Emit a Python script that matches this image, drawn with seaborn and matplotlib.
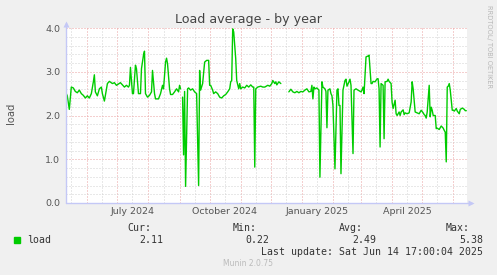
import numpy as np
import pandas as pd
import matplotlib
matplotlib.use("Agg")
import matplotlib.pyplot as plt
import matplotlib.dates as mdates
from matplotlib.ticker import MultipleLocator, FuncFormatter
import seaborn as sns

# ---------------- data ----------------
dates = [
    "2024-05-11", "2024-05-12", "2024-05-14", "2024-05-16", "2024-05-18", "2024-05-20",
    "2024-05-22", "2024-05-24", "2024-05-26", "2024-05-28", "2024-05-30", "2024-06-01",
    "2024-06-03", "2024-06-05", "2024-06-07", "2024-06-08", "2024-06-09", "2024-06-11",
    "2024-06-13", "2024-06-15", "2024-06-16", "2024-06-18", "2024-06-19", "2024-06-21",
    "2024-06-23", "2024-06-26", "2024-06-28", "2024-06-30", "2024-07-02", "2024-07-04",
    "2024-07-06", "2024-07-08", "2024-07-10", "2024-07-12", "2024-07-13", "2024-07-14",
    "2024-07-16", "2024-07-17", "2024-07-19", "2024-07-20", "2024-07-22", "2024-07-24",
    "2024-07-25", "2024-07-27", "2024-07-28", "2024-07-29", "2024-07-31", "2024-08-02",
    "2024-08-04", "2024-08-05", "2024-08-07", "2024-08-08", "2024-08-11", "2024-08-13",
    "2024-08-15", "2024-08-16", "2024-08-18", "2024-08-19", "2024-08-20", "2024-08-22",
    "2024-08-23", "2024-08-25", "2024-08-27", "2024-08-29", "2024-08-31", "2024-09-01",
    "2024-09-02", "2024-09-03", "2024-09-04", "2024-09-05", "2024-09-06", "2024-09-07",
    "2024-09-09", "2024-09-10", "2024-09-12", "2024-09-14", "2024-09-16", "2024-09-18",
    "2024-09-20", "2024-09-21", "2024-09-22", "2024-09-24", "2024-09-26", "2024-09-28",
    "2024-09-30", "2024-10-01", "2024-10-02", "2024-10-04", "2024-10-05", "2024-10-07",
    "2024-10-09", "2024-10-11", "2024-10-13", "2024-10-15", "2024-10-17", "2024-10-19",
    "2024-10-21", "2024-10-22", "2024-10-23", "2024-10-24", "2024-10-25", "2024-10-27",
    "2024-10-28", "2024-10-30", "2024-10-31", "2024-11-01", "2024-11-03", "2024-11-05",
    "2024-11-07", "2024-11-09", "2024-11-11", "2024-11-13", "2024-11-14", "2024-11-15",
    "2024-11-16", "2024-11-18", "2024-11-21", "2024-11-23", "2024-11-25", "2024-11-28",
    "2024-11-30", "2024-12-02", "2024-12-03", "2024-12-05", "2024-12-06", "2024-12-07",
    "2024-12-09", "2024-12-11", "2024-12-12", "2024-12-19", "2024-12-21", "2024-12-23",
    "2024-12-25", "2024-12-27", "2024-12-29", "2024-12-31", "2025-01-02", "2025-01-04",
    "2025-01-06", "2025-01-08", "2025-01-10", "2025-01-11", "2025-01-12", "2025-01-13",
    "2025-01-14", "2025-01-16", "2025-01-18", "2025-01-19", "2025-01-21", "2025-01-22",
    "2025-01-24", "2025-01-25", "2025-01-26", "2025-01-27", "2025-01-29", "2025-01-30",
    "2025-01-31", "2025-02-01", "2025-02-03", "2025-02-05", "2025-02-06", "2025-02-07",
    "2025-02-08", "2025-02-09", "2025-02-11", "2025-02-13", "2025-02-14", "2025-02-15",
    "2025-02-17", "2025-02-18", "2025-02-19", "2025-02-21", "2025-02-22", "2025-02-24",
    "2025-02-26", "2025-03-01", "2025-03-02", "2025-03-03", "2025-03-04", "2025-03-06",
    "2025-03-08", "2025-03-09", "2025-03-11", "2025-03-12", "2025-03-13", "2025-03-15",
    "2025-03-17", "2025-03-18", "2025-03-19", "2025-03-20", "2025-03-21", "2025-03-23",
    "2025-03-24", "2025-03-25", "2025-03-27", "2025-03-28", "2025-03-29", "2025-03-31",
    "2025-04-01", "2025-04-02", "2025-04-04", "2025-04-05", "2025-04-06", "2025-04-08",
    "2025-04-09", "2025-04-10", "2025-04-12", "2025-04-13", "2025-04-14", "2025-04-16",
    "2025-04-18", "2025-04-20", "2025-04-21", "2025-04-22", "2025-04-24", "2025-04-26",
    "2025-04-28", "2025-04-30", "2025-05-02", "2025-05-03", "2025-05-04", "2025-05-05",
    "2025-05-06", "2025-05-08", "2025-05-09", "2025-05-10", "2025-05-11", "2025-05-12",
    "2025-05-14", "2025-05-15", "2025-05-16", "2025-05-18", "2025-05-20", "2025-05-22",
    "2025-05-23", "2025-05-24", "2025-05-25", "2025-05-26", "2025-05-27", "2025-05-28",
    "2025-05-29", "2025-05-31", "2025-06-01", "2025-06-02", "2025-06-04", "2025-06-05",
    "2025-06-07", "2025-06-08", "2025-06-10", "2025-06-12", "2025-06-13", "2025-06-14",
]
nan = float("nan")
loads = [
    2.50, 2.45, 2.14, 2.65, 2.63, 2.55,
    2.52, 2.58, 2.50, 2.46, 2.40, 2.45,
    2.40, 2.50, 2.77, 2.93, 2.54, 2.45,
    2.61, 2.65, 2.50, 2.33, 2.46, 2.73,
    2.78, 2.73, 2.75, 2.69, 2.72, 2.75,
    2.70, 2.65, 2.69, 2.65, 2.69, 3.10,
    2.50, 2.50, 3.15, 3.07, 2.50, 2.50,
    3.07, 3.38, 3.47, 2.50, 2.42, 2.46,
    2.54, 3.03, 2.50, 2.38, 2.38, 2.50,
    2.69, 2.61, 3.22, 3.31, 3.18, 2.61,
    2.48, 2.48, 2.54, 2.61, 2.54, 2.69,
    2.61, nan, 2.42, 1.10, 2.55, 0.38,
    2.61, 2.63, 2.58, 2.61, 2.54, 2.50,
    0.40, 3.03, 2.58, 2.73, 3.22, 3.26,
    3.26, 2.69, 2.69, 2.58, 2.50, 2.54,
    2.50, 2.42, 2.40, 2.45, 2.48, 2.54,
    2.61, 2.77, 2.80, 3.98, 3.91, 3.30,
    2.80, 2.61, 2.73, 2.61, 2.65, 2.63,
    2.69, 2.65, 2.70, 2.65, 2.65, 0.82,
    2.61, 2.65, 2.67, 2.65, 2.65, 2.69,
    2.67, 2.73, 2.80, 2.73, 2.77, 2.70,
    2.77, 2.73, nan, 2.54, 2.60, 2.54,
    2.52, 2.55, 2.52, 2.55, 2.54, 2.58,
    2.61, 2.54, 2.55, 2.69, 2.38, 2.65,
    2.61, 2.63, 2.58, 0.59, 2.77, 2.65,
    2.61, 2.55, 1.72, 2.58, 2.61, 2.50,
    2.45, 2.23, 0.78, 2.58, 2.61, 2.23,
    2.23, 0.67, 2.58, 2.80, 2.83, 2.67,
    2.77, 2.83, 2.69, 1.13, 2.58, 2.61,
    2.58, 2.54, 2.58, 2.65, 2.50, 3.34,
    3.36, 3.38, 2.73, 2.73, 2.78, 2.77,
    2.84, 2.84, 2.61, 1.28, 2.73, 2.69,
    1.47, 2.77, 2.78, 2.83, 2.78, 2.73,
    2.30, 2.16, 2.35, 2.04, 2.00, 2.08,
    2.00, 2.08, 2.13, 2.02, 2.06, 2.04,
    2.06, 2.31, 2.77, 2.61, 2.08, 2.06,
    2.04, 2.12, 2.06, 2.02, 2.00, 1.94,
    2.08, 2.69, 1.97, 2.19, 2.12, 2.00,
    2.00, 1.70, 1.71, 1.68, 1.76, 1.71,
    1.66, 1.62, 0.94, 2.65, 2.67, 2.73,
    2.58, 2.12, 2.12, 2.10, 2.16, 2.10,
    2.04, 2.14, 2.17, 2.14, 2.11, 2.11,
]
series_name = "load"
stat_labels = ["Cur:", "Min:", "Avg:", "Max:"]
stat_values = ["2.11", "0.22", "2.49", "5.38"]
title = "Load average - by year"
last_update = "Last update: Sat Jun 14 17:00:04 2025"
footer = "Munin 2.0.75"
side_text = "RRDTOOL/ TOBI OETIKER"
x_start, x_end = "2024-05-10 17:00", "2025-06-14 17:00"

# ---------------- style ----------------
sns.set_theme(style="white")
plt.rcParams['font.family'] = ['DejaVu Sans']

W, H = 497, 275
BG = "#F0F0F0"
GREEN = "#00CC00"
RED_GRID = "#EBA0A0"
GRAY_GRID = "#D2D2D2"
AXIS = "#C4C8F6"
TXT = "#555555"

fig = plt.figure(figsize=(W / 100, H / 100), dpi=100, facecolor=BG)
L, R, T, B = 66, 467, 28, 203
ax = fig.add_axes([L / W, 1 - B / H, (R - L) / W, (B - T) / H])
ax.set_facecolor("white")

df = pd.DataFrame({"date": pd.to_datetime(dates), "load": loads})
df["segment"] = df["load"].isna().cumsum()
df = df.dropna()
sns.lineplot(data=df, x="date", y="load", units="segment", estimator=None,
             color=GREEN, lw=1.0, ax=ax, legend=False, zorder=3)

ax.set_xlim(pd.Timestamp(x_start), pd.Timestamp(x_end))
ax.set_ylim(0, 4)
ax.set_xlabel("")
ax.set_ylabel("")

ax.yaxis.set_major_locator(MultipleLocator(1))
ax.yaxis.set_minor_locator(MultipleLocator(0.2))
ax.yaxis.set_major_formatter(FuncFormatter(lambda v, p: f"{v:.1f}"))

ax.xaxis.set_major_locator(mdates.MonthLocator(bymonthday=16))
ax.xaxis.set_minor_locator(mdates.MonthLocator(bymonthday=1))


def fmt_month(v, pos):
    d = mdates.num2date(v)
    return d.strftime("%B %Y") if d.month in (1, 4, 7, 10) else ""


ax.xaxis.set_major_formatter(FuncFormatter(fmt_month))

dots = (0, (1, 2))
ax.set_axisbelow(True)
ax.grid(which="major", axis="y", color=RED_GRID, lw=0.72, ls=dots)
ax.grid(which="minor", axis="y", color=GRAY_GRID, lw=0.72, ls=dots)
ax.grid(which="major", axis="x", color=GRAY_GRID, lw=0.72, ls=dots)
ax.grid(which="minor", axis="x", color=RED_GRID, lw=0.72, ls=dots)

ax.tick_params(axis="both", which="both", length=0, labelsize=6.8, labelcolor=TXT)
ax.tick_params(axis="x", which="major", pad=3.2)
ax.tick_params(axis="y", which="major", pad=4.2)
ax.tick_params(axis="x", which="minor", length=2.5, width=0.7, color=RED_GRID, direction="out")

for s in ax.spines.values():
    s.set_visible(False)

# axis lines with arrows (rrdtool style)
ax.plot([0, 0], [0, 1 + 5 / 175], transform=ax.transAxes, color=AXIS, lw=1.0,
        clip_on=False, zorder=4)
ax.plot([0, 1 + 5 / 401], [0, 0], transform=ax.transAxes, color=AXIS, lw=1.0,
        clip_on=False, zorder=4)
ax.plot([0], [1 + 4 / 175], transform=ax.transAxes, marker="^", ms=5, color=AXIS,
        mec="none", clip_on=False, zorder=4)
ax.plot([1 + 4 / 401], [0], transform=ax.transAxes, marker=">", ms=5, color=AXIS,
        mec="none", clip_on=False, zorder=4)


def P(x, y):
    return x / W, 1 - y / H


fig.text(*P(248.5, 19), title, ha="center", va="center", fontsize=9.1, color="#444444")
fig.text(*P(11, 113), "load", rotation=90, ha="center", va="center", fontsize=7.2, color=TXT)
fig.text(*P(489, 5), side_text, rotation=-90, ha="center", va="top", fontsize=4.8, color="#B8B8B8")

MONO = "DejaVu Sans Mono"
fig.patches.append(plt.Rectangle(P(14, 243), 6 / W, 6 / H, transform=fig.transFigure,
                                 color=GREEN, figure=fig))
fig.text(*P(27, 239.7), series_name, ha="left", va="center", fontsize=7.1,
         family=MONO, color="#333333")
label_right = [151, 257, 363, 470]
value_right = [163, 269, 376, 483]
for lab, val, lx, vx in zip(stat_labels, stat_values, label_right, value_right):
    fig.text(*P(lx, 227.7), lab, ha="right", va="center", fontsize=7.1, family=MONO, color="#333333")
    fig.text(*P(vx, 239.7), val, ha="right", va="center", fontsize=7.1, family=MONO, color="#333333")
fig.text(*P(483, 251.7), last_update, ha="right", va="center", fontsize=7.1, family=MONO, color="#333333")
fig.text(*P(248, 264), footer, ha="center", va="center", fontsize=5.5, color="#BBBBBB")

fig.savefig("out.png", dpi=100, facecolor=BG)
